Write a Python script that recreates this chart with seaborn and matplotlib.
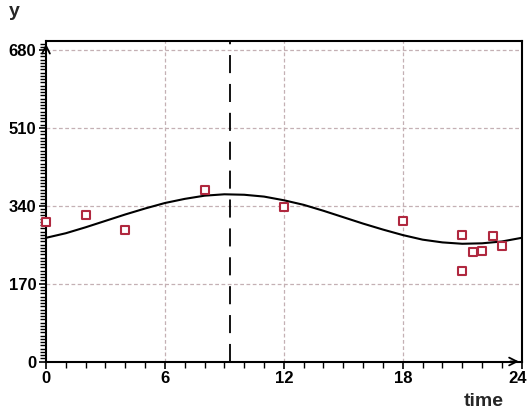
import matplotlib
matplotlib.use("Agg")
import matplotlib.pyplot as plt
from matplotlib.ticker import MultipleLocator
from matplotlib.transforms import ScaledTranslation
import seaborn as sns
import pandas as pd

# observed data (time in hours, y)
obs_time = [0, 2, 4, 8, 12, 18, 21.0, 21.0, 21.55, 22.0, 22.55, 23.0]
obs_y = [305, 320, 286, 374, 337, 307, 276, 198, 238, 242, 275, 253]

# fitted curve at each hour
fit_time = list(range(0, 25))
fit_y = [270, 280, 293, 307, 321, 334, 346, 355, 362, 365, 364, 360, 352,
         342, 329, 315, 301, 288, 276, 266, 260, 257, 258, 262, 270]

vline_time = 9.28
x_ticks = [0, 6, 12, 18, 24]
y_ticks = [0, 170, 340, 510, 680]

sns.set_theme(style="white")
plt.rcParams['font.family'] = ['Liberation Sans', 'DejaVu Sans']

fig = plt.figure(figsize=(5.28, 4.13), dpi=100)
ax = fig.add_axes([46 / 528, (413 - 361.5) / 413, (521.7 - 46) / 528, (361.5 - 41) / 413])
fig.patch.set_facecolor("white")
ax.set_facecolor("white")

df_obs = pd.DataFrame({"time": obs_time, "y": obs_y})
df_fit = pd.DataFrame({"time": fit_time, "y": fit_y})

# grid
for xv in [6, 12, 18]:
    ax.axvline(xv, color="#c4b0b4", lw=0.9, ls=(0, (3, 2)), zorder=0)
for yv in [170, 340, 510, 680]:
    ax.axhline(yv, color="#c4b0b4", lw=0.9, ls=(0, (3, 2)), zorder=0)

sns.lineplot(data=df_fit, x="time", y="y", ax=ax, color="black", lw=1.5, zorder=3)
ax.axvline(vline_time, color="black", lw=1.3, ls=(0, (10, 6)), zorder=2)
sns.scatterplot(data=df_obs, x="time", y="y", ax=ax, marker="s", s=28,
                facecolor="white", edgecolor="#b0283f", linewidth=1.5,
                zorder=4, clip_on=False)

ax.set_xlim(0, 24)
ax.set_ylim(0, 680 * (361.5 - 41) / (361.5 - 50))
ax.set_xticks(x_ticks)
ax.set_yticks(y_ticks)
ax.xaxis.set_minor_locator(MultipleLocator(1))
ax.yaxis.set_minor_locator(MultipleLocator(170 / 24))
ax.tick_params(axis="both", which="major", direction="out", length=5, width=1.2,
               colors="black", labelsize=12, pad=2)
ax.tick_params(axis="both", which="minor", direction="out", length=4, width=1.0,
               colors="black")
ax.tick_params(axis="x", which="both", bottom=True)
ax.tick_params(axis="y", which="both", left=True)
for lab in ax.get_xticklabels() + ax.get_yticklabels():
    lab.set_fontweight("bold")
last = ax.get_xticklabels()[-1]
last.set_transform(last.get_transform() + ScaledTranslation(-4 / 100, 0, fig.dpi_scale_trans))

for s in ["left", "bottom", "top", "right"]:
    ax.spines[s].set_visible(True)
    ax.spines[s].set_color("black")
    ax.spines[s].set_linewidth(1.5)

ax.set_xlabel("")
ax.set_ylabel("")

# arrowheads
ax.annotate("", xy=(1.0, 0.0), xytext=(0.97, 0.0), xycoords="axes fraction",
            arrowprops=dict(arrowstyle="->", color="black", lw=1.3, mutation_scale=14))
ax.annotate("", xy=(0.0, 1.0), xytext=(0.0, 0.96), xycoords="axes fraction",
            arrowprops=dict(arrowstyle="->", color="black", lw=1.3, mutation_scale=14))

fig.text(14 / 528, 1 - 12 / 413, "y", fontsize=14, fontweight="bold", ha="center", va="center")
fig.text(484 / 528, 1 - 401 / 413, "time", fontsize=14, fontweight="bold", ha="center", va="center")

fig.savefig("out.png", dpi=100)
